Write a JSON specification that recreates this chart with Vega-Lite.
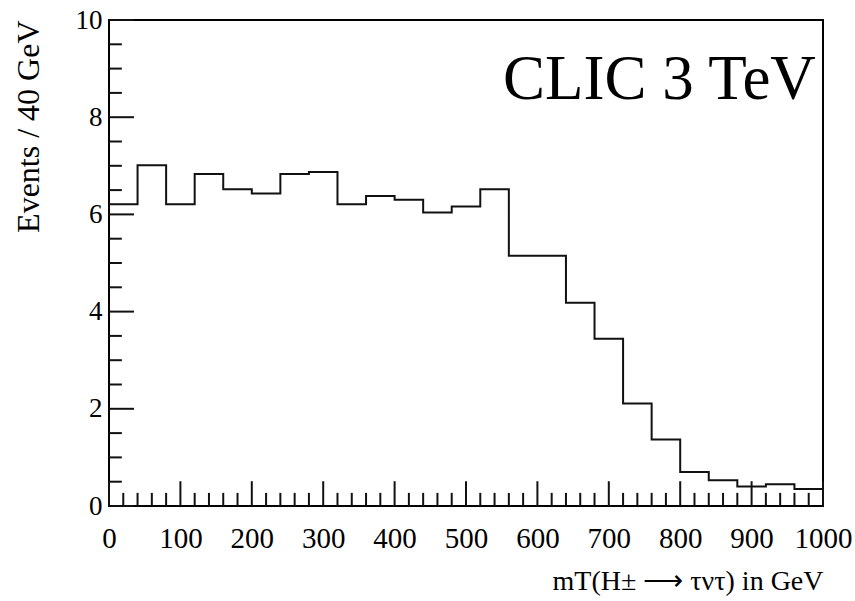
{
  "$schema": "https://vega.github.io/schema/vega-lite/v6.json",
  "width": 714,
  "height": 486,
  "autosize": "none",
  "padding": {"left": 109, "top": 20, "right": 32, "bottom": 95},
  "background": "white",
  "config": {
    "view": {"stroke": "#000000", "strokeWidth": 2},
    "axis": {"grid": false, "ticks": false, "domain": false, "labelFont": "Liberation Serif", "titleFont": "Liberation Serif", "labelColor": "#000000", "titleColor": "#000000", "titleFontWeight": "normal"}
  },
  "datasets": {
    "hist": [
      {"mass": 0, "events": 6.21},
      {"mass": 40, "events": 7.01},
      {"mass": 80, "events": 6.21},
      {"mass": 120, "events": 6.83},
      {"mass": 160, "events": 6.52},
      {"mass": 200, "events": 6.43},
      {"mass": 240, "events": 6.83},
      {"mass": 280, "events": 6.87},
      {"mass": 320, "events": 6.21},
      {"mass": 360, "events": 6.38},
      {"mass": 400, "events": 6.30},
      {"mass": 440, "events": 6.04},
      {"mass": 480, "events": 6.16},
      {"mass": 520, "events": 6.52},
      {"mass": 560, "events": 5.15},
      {"mass": 600, "events": 5.15},
      {"mass": 640, "events": 4.18},
      {"mass": 680, "events": 3.44},
      {"mass": 720, "events": 2.11},
      {"mass": 760, "events": 1.37},
      {"mass": 800, "events": 0.70},
      {"mass": 840, "events": 0.53},
      {"mass": 880, "events": 0.40},
      {"mass": 920, "events": 0.45},
      {"mass": 960, "events": 0.35},
      {"mass": 1000, "events": 0.35}
    ],
    "xmajor": [{"v": 0}, {"v": 100}, {"v": 200}, {"v": 300}, {"v": 400}, {"v": 500}, {"v": 600}, {"v": 700}, {"v": 800}, {"v": 900}, {"v": 1000}],
    "xminor": [{"v": 20}, {"v": 40}, {"v": 60}, {"v": 80}, {"v": 120}, {"v": 140}, {"v": 160}, {"v": 180}, {"v": 220}, {"v": 240}, {"v": 260}, {"v": 280}, {"v": 320}, {"v": 340}, {"v": 360}, {"v": 380}, {"v": 420}, {"v": 440}, {"v": 460}, {"v": 480}, {"v": 520}, {"v": 540}, {"v": 560}, {"v": 580}, {"v": 620}, {"v": 640}, {"v": 660}, {"v": 680}, {"v": 720}, {"v": 740}, {"v": 760}, {"v": 780}, {"v": 820}, {"v": 840}, {"v": 860}, {"v": 880}, {"v": 920}, {"v": 940}, {"v": 960}, {"v": 980}],
    "ymajor": [{"v": 0}, {"v": 2}, {"v": 4}, {"v": 6}, {"v": 8}, {"v": 10}],
    "yminor": [{"v": 0.5}, {"v": 1}, {"v": 1.5}, {"v": 2.5}, {"v": 3}, {"v": 3.5}, {"v": 4.5}, {"v": 5}, {"v": 5.5}, {"v": 6.5}, {"v": 7}, {"v": 7.5}, {"v": 8.5}, {"v": 9}, {"v": 9.5}],
    "label": [{"mass": 990, "events": 8.38, "text": "CLIC 3 TeV"}]
  },
  "layer": [
    {
      "data": {"name": "hist"},
      "mark": {"type": "line", "interpolate": "step-after", "color": "#111111", "strokeWidth": 2, "clip": false},
      "encoding": {
        "x": {"field": "mass", "type": "quantitative", "scale": {"domain": [0, 1000], "nice": false, "zero": false},
          "axis": {"values": [0, 100, 200, 300, 400, 500, 600, 700, 800, 900, 1000], "format": "d", "labelFontSize": 29, "labelPadding": 18, "labelFlush": false,
            "title": "mT(H± ⟶ τντ) in GeV", "titleFontSize": 28, "titleAnchor": "end", "titlePadding": 14}},
        "y": {"field": "events", "type": "quantitative", "scale": {"domain": [0, 10], "nice": false},
          "axis": {"values": [0, 2, 4, 6, 8, 10], "labelFontSize": 27, "labelPadding": 7, "labelFlush": false,
            "title": "Events / 40 GeV", "titleFontSize": 32, "titleAnchor": "end", "titlePadding": 30}}
      }
    },
    {
      "data": {"name": "xmajor"},
      "mark": {"type": "rule", "color": "#111111", "strokeWidth": 2},
      "encoding": {"x": {"field": "v", "type": "quantitative"}, "y": {"datum": 0}, "y2": {"datum": 0.51}}
    },
    {
      "data": {"name": "xminor"},
      "mark": {"type": "rule", "color": "#111111", "strokeWidth": 2},
      "encoding": {"x": {"field": "v", "type": "quantitative"}, "y": {"datum": 0}, "y2": {"datum": 0.27}}
    },
    {
      "data": {"name": "ymajor"},
      "mark": {"type": "rule", "color": "#111111", "strokeWidth": 2},
      "encoding": {"y": {"field": "v", "type": "quantitative"}, "x": {"datum": 0}, "x2": {"datum": 35}}
    },
    {
      "data": {"name": "yminor"},
      "mark": {"type": "rule", "color": "#111111", "strokeWidth": 2},
      "encoding": {"y": {"field": "v", "type": "quantitative"}, "x": {"datum": 0}, "x2": {"datum": 18}}
    },
    {
      "data": {"name": "label"},
      "mark": {"type": "text", "font": "Liberation Serif", "fontSize": 63, "align": "right", "baseline": "alphabetic", "color": "#000000"},
      "encoding": {"x": {"field": "mass", "type": "quantitative"}, "y": {"field": "events", "type": "quantitative"}, "text": {"field": "text"}}
    }
  ]
}
